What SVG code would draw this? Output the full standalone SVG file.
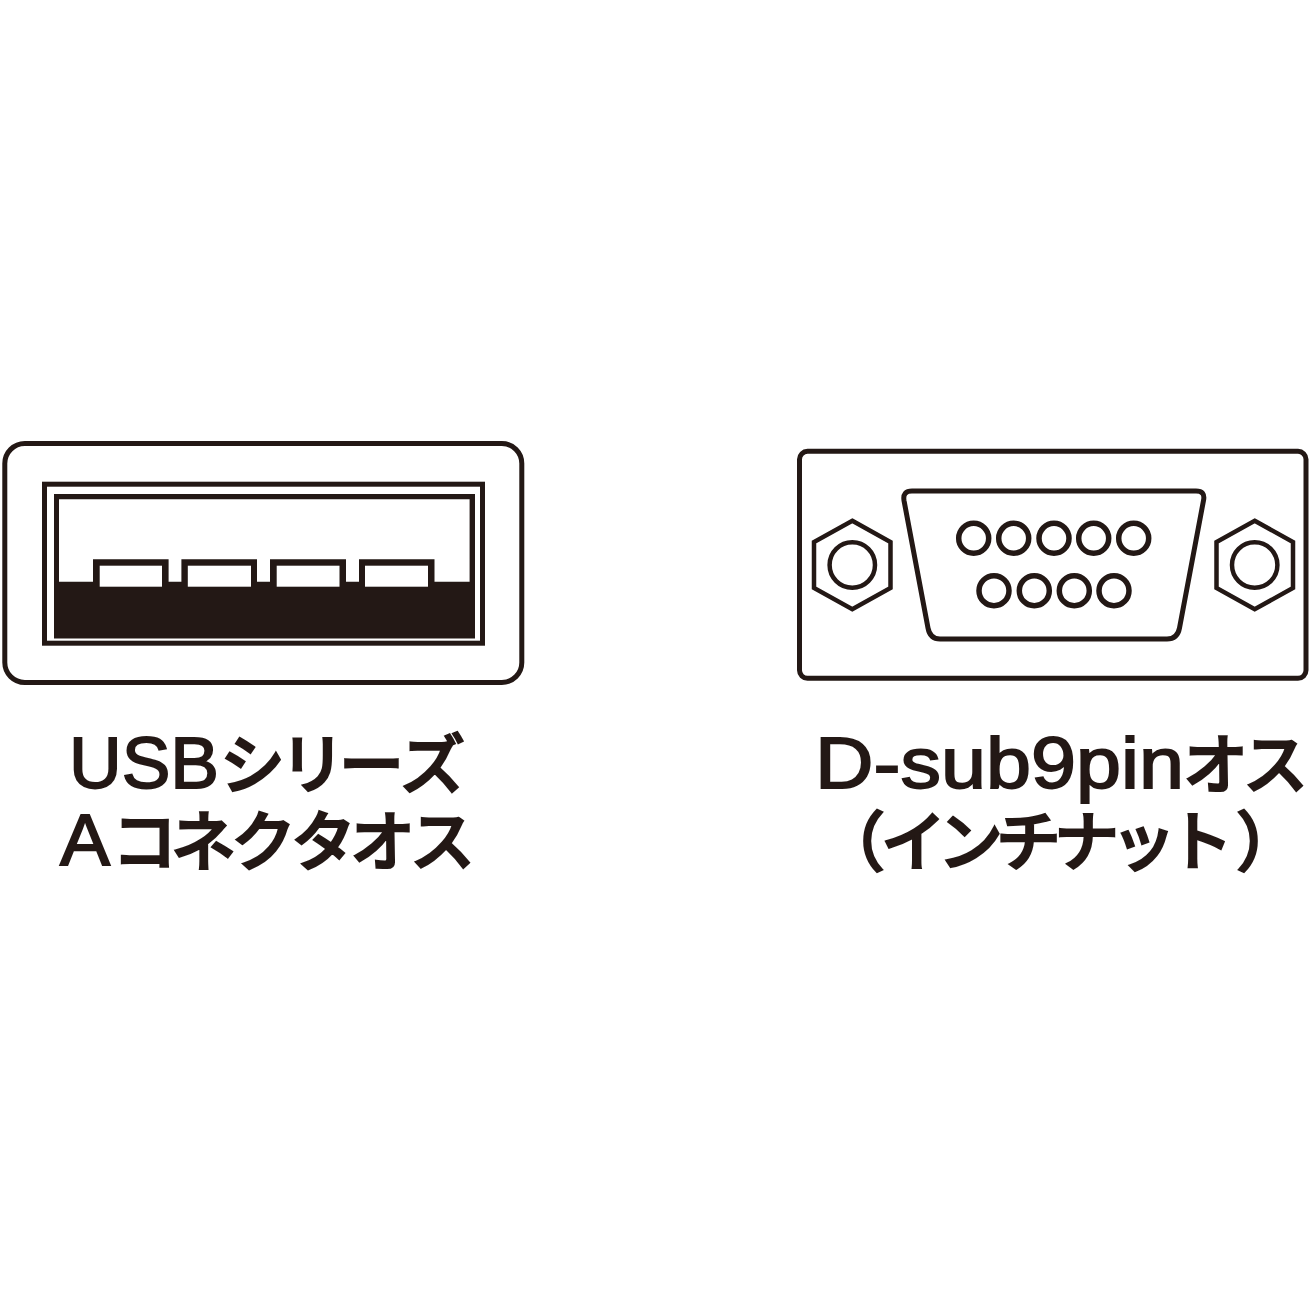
<svg xmlns="http://www.w3.org/2000/svg" width="1312" height="1312" viewBox="0 0 1312 1312">
<style>
.l{fill:none;stroke:#231815;stroke-width:5}
.f{fill:#231815}
.w{fill:#fff}
.t{fill:#231815;stroke:#231815;stroke-width:1.8;font-size:72px;font-family:"Liberation Sans","Noto Sans CJK JP",sans-serif}
.k{fill:#231815;stroke:#231815;stroke-width:2.2;font-size:65px;font-weight:500;font-family:"Noto Sans CJK JP",sans-serif}
</style>
<rect width="1312" height="1312" fill="#fff"/>
<g id="usb-connector">
<rect class="l" x="4.8" y="443.5" width="517" height="239" rx="20"/>
<rect class="l" x="44.5" y="484.2" width="438" height="159"/>
<path class="f" d="M54 494H475V638.5H54ZM59 499.300V581.700H93V559.300H168.600V581.700H181.400V559.300H257V581.700H270V559.300H346V581.700H359V559.300H434.500V581.700H469.600V499.300Z" fill-rule="evenodd"/>
<rect class="w" x="99.700" y="565.700" width="62.300" height="21"/>
<rect class="w" x="187.800" y="565.700" width="63.200" height="21"/>
<rect class="w" x="276.700" y="565.700" width="62.800" height="21"/>
<rect class="w" x="365" y="565.700" width="63" height="21"/>
</g>
<g id="dsub-connector">
<rect class="l" x="799.500" y="451.300" width="506.500" height="227" rx="8"/>
<path class="l" d="M912 491H1196Q1205.500 491 1203.500 500.500L1179.500 628Q1177.500 639 1167 639H940Q930 639 928 628L904 500.500Q902.500 491 912 491Z"/>
<g class="l" style="stroke-width:5.500">
<circle cx="973.700" cy="538.300" r="15"/><circle cx="1013.700" cy="538.300" r="15"/><circle cx="1054" cy="538.300" r="15"/><circle cx="1093.700" cy="538.300" r="15"/><circle cx="1133.700" cy="538.300" r="15"/>
<circle cx="994" cy="590.700" r="15"/><circle cx="1034.300" cy="590.700" r="15"/><circle cx="1074.300" cy="590.700" r="15"/><circle cx="1114" cy="590.700" r="15"/>
</g>
<g class="l" style="stroke-width:4.500">
<path d="M852.300 520.800L890.500 542V588L852.300 609.200L814 588V542Z"/><circle cx="852.300" cy="565" r="22.700"/>
<path d="M1254.700 520.800L1293 542V588L1254.700 609.200L1216.500 588V542Z"/><circle cx="1254.700" cy="565" r="22.700"/>
</g>
</g>
<g id="labels">
<text class="t" x="69" y="788" textLength="150" lengthAdjust="spacingAndGlyphs">USB</text>
<text class="k" x="220 280 339 400" y="788">シリーズ</text>
<text class="t" x="60" y="865" textLength="50" lengthAdjust="spacingAndGlyphs">A</text>
<text class="k" x="112 171 231 291 350 410" y="865">コネクタオス</text>
<text class="t" x="815" y="788" textLength="369" lengthAdjust="spacingAndGlyphs">D-sub9pin</text>
<text class="k" x="1183 1243" y="788">オス</text>
<text class="k" x="820 881 938 996 1054 1111 1168 1236" y="865">（インチナット）</text>
</g>
</svg>
